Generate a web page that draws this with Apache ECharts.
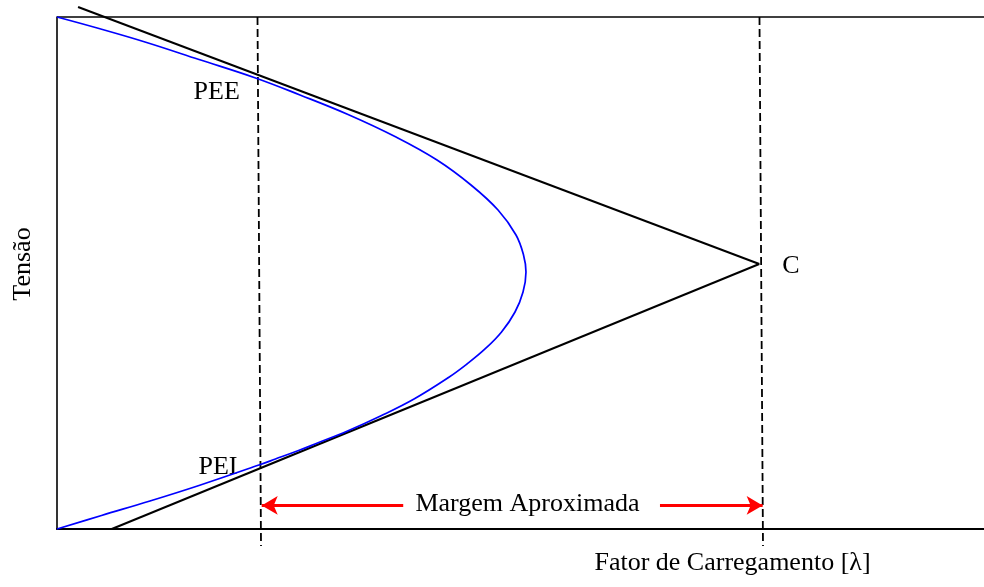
<!DOCTYPE html>
<html>
<head>
<meta charset="utf-8">
<script src="https://cdn.jsdelivr.net/npm/echarts@6/dist/echarts.min.js"></script>
<style>
  html, body { margin: 0; padding: 0; background: #fff; }
  #chart { width: 984px; height: 587px; }
</style>
</head>
<body>
<div id="chart"></div>
<script>
// Curva PV (tensão x fator de carregamento), do topo até a base passando pelo nariz
const pvLambda = [0.0000, 0.0598, 0.1253, 0.2022, 0.2827, 0.3460, 0.4144, 0.4827, 0.5411, 0.5895,
                  0.6280, 0.6536, 0.6643, 0.6678, 0.6636, 0.6522, 0.6330, 0.6095, 0.5838, 0.5575,
                  0.5084, 0.4607, 0.4137, 0.3674, 0.3439, 0.3111, 0.2876, 0.2022, 0.1324, 0.0634, 0.0000];
const pvTensao  = [1.0000, 0.9775, 0.9512, 0.9170, 0.8809, 0.8477, 0.8096, 0.7656, 0.7207, 0.6719,
                   0.6230, 0.5742, 0.5352, 0.5020, 0.4629, 0.4238, 0.3848, 0.3516, 0.3223, 0.2959,
                   0.2539, 0.2207, 0.1914, 0.1660, 0.1533, 0.1367, 0.1250, 0.0850, 0.0547, 0.0264, 0.0000];

// Retas tangentes (PEE e PEI) que se cruzam no ponto C
const pontoC = [1.000, 0.5176];
const tangenteSupInicio = [0.030, 1.0195];
const tangenteInfInicio = [0.078, 0.000];

// Linhas tracejadas verticais (topo, base)
const tracejadaEsq = [[0.2855, 1.000], [0.2905, -0.033]];
const tracejadaDir = [[1.0003, 1.000], [1.0053, -0.033]];

// Setas da margem aproximada
const setaY = 0.046;
const setaEsq = [0.493, 0.2915];
const setaDir = [0.8586, 1.0048];

const eixoX = [0, 1.32];
const eixoY = [0, 1];

const fonte = '26px "Liberation Serif", "Times New Roman", serif';

const curvaPV = pvLambda.map((l, i) => [l, pvTensao[i]]);

const chart = echarts.init(document.getElementById('chart'), null, { renderer: 'canvas' });

const preto = '#000';
const lineBase = (data, extra) => Object.assign({
  type: 'line', data: data, symbol: 'none', clip: false, silent: true,
  animation: false, lineStyle: { color: preto, width: 2 }
}, extra || {});

chart.setOption({
  animation: false,
  backgroundColor: '#fff',
  grid: { left: 57, right: 0, top: 17, bottom: 58 },
  xAxis: {
    type: 'value', min: eixoX[0], max: eixoX[1],
    axisLine: { show: true, onZero: false, lineStyle: { color: preto, width: 2.2 } },
    axisTick: { show: false }, axisLabel: { show: false }, splitLine: { show: false }
  },
  yAxis: {
    type: 'value', min: eixoY[0], max: eixoY[1],
    axisLine: { show: true, onZero: false, lineStyle: { color: preto, width: 1.6 } },
    axisTick: { show: false }, axisLabel: { show: false }, splitLine: { show: false }
  },
  series: [
    // borda superior
    lineBase([[eixoX[0], eixoY[1]], [eixoX[1], eixoY[1]]], { lineStyle: { color: preto, width: 1.5 } }),
    lineBase([tangenteSupInicio, pontoC]),
    lineBase([tangenteInfInicio, pontoC]),
    lineBase(tracejadaEsq, { lineStyle: { color: preto, width: 1.8, type: [8, 4] } }),
    lineBase(tracejadaDir, { lineStyle: { color: preto, width: 1.8, type: [8, 4] } }),
    {
      type: 'line', data: [], symbol: 'none', silent: true,
      markLine: {
        silent: true, animation: false,
        symbol: ['none', 'arrow'], symbolSize: [14, 16],
        label: { show: false },
        lineStyle: { color: '#ff0000', width: 3, type: 'solid' },
        data: [
          [{ coord: [setaEsq[0], setaY] }, { coord: [setaEsq[1], setaY] }],
          [{ coord: [setaDir[0], setaY] }, { coord: [setaDir[1], setaY] }]
        ]
      }
    },
    lineBase(curvaPV, { smooth: 0.4, lineStyle: { color: '#0000ff', width: 1.7 } })
  ],
  graphic: [
    { type: 'text', x: 216.7, y: 92, style: { text: 'PEE', font: fonte, fill: preto, textAlign: 'center', textVerticalAlign: 'middle' } },
    { type: 'text', x: 218, y: 467, style: { text: 'PEI', font: fonte, fill: preto, textAlign: 'center', textVerticalAlign: 'middle' } },
    { type: 'text', x: 791, y: 266, style: { text: 'C', font: fonte, fill: preto, textAlign: 'center', textVerticalAlign: 'middle' } },
    { type: 'text', x: 527.5, y: 504.5, style: { text: 'Margem Aproximada', font: fonte, fill: preto, textAlign: 'center', textVerticalAlign: 'middle' } },
    { type: 'text', x: 732.5, y: 562.7, style: { text: 'Fator de Carregamento [λ]', font: fonte, fill: preto, textAlign: 'center', textVerticalAlign: 'middle' } },
    { type: 'text', x: 22.7, y: 264, rotation: Math.PI / 2, style: { text: 'Tensão', font: fonte, fill: preto, textAlign: 'center', textVerticalAlign: 'middle' } }
  ]
});
</script>
</body>
</html>
